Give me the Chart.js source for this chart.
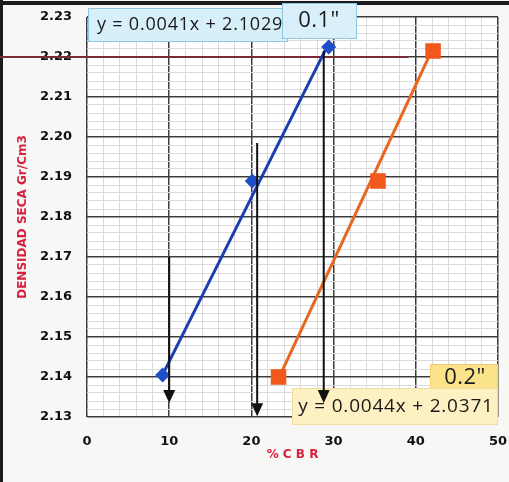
<!DOCTYPE html>
<html><head><meta charset="utf-8">
<script src="https://cdn.jsdelivr.net/npm/chart.js@4.4.0/dist/chart.umd.min.js"></script>
<style>html,body{margin:0;padding:0;background:#f8f8f6;}</style>
</head><body>
<canvas id="c" width="509" height="482"></canvas>
<script>
// ---- data ----
const blueX = [9.2, 20.1, 29.4];
const blueY = [2.1405, 2.189, 2.2225];
const orangeX = [23.3, 35.4, 42.1];
const orangeY = [2.140, 2.189, 2.2215];
const blueTrendX = [9.2, 29.4];
const blueTrendY = [2.1406, 2.2234];
const orangeTrendX = [23.3, 42.1];
const orangeTrendY = [2.1396, 2.2223];
const xTickLabels = [0, 10, 20, 30, 40, 50];
const yTickLabels = ['2.13','2.14','2.15','2.16','2.17','2.18','2.19','2.20','2.21','2.22','2.23'];
const arrowX = [10.0, 20.7, 28.8];
const arrowTop = [2.170, 2.1985, 2.2215];
const arrowTip = [2.1335, 2.1302, 2.1335];
const refLineY = [2.22];
const refLineEndX = [39.1];
const eqBlue = 'y = 0.0041x + 2.1029';
const eqOrange = 'y = 0.0044x + 2.0371';
const tagBlue = '0.1"';
const tagOrange = '0.2"';
const xTitle = '% C B R';
const yTitle = 'DENSIDAD SECA Gr/Cm3';

const pts = (xs, ys) => xs.map((x, i) => ({x: x, y: ys[i]}));
const isMajorY = v => Math.abs(v * 100 - Math.round(v * 100)) < 1e-6;
const isMajorX = v => Math.abs(v / 10 - Math.round(v / 10)) < 1e-6;

const decor = {
  id: 'decor',
  beforeDraw(chart) {
    const ctx = chart.ctx, a = chart.chartArea;
    ctx.save();
    ctx.fillStyle = '#f7f7f5';
    ctx.fillRect(0, 0, chart.width, chart.height);
    ctx.fillStyle = '#ffffff';
    ctx.fillRect(a.left, a.top, a.right - a.left, a.bottom - a.top);
    ctx.fillStyle = '#1b1b1b';
    ctx.fillRect(0, 1, chart.width, 4);
    ctx.fillRect(0, 0, 3, chart.height);
    ctx.restore();
  },
  beforeDatasetsDraw(chart) {
    const ctx = chart.ctx, xs = chart.scales.x, ys = chart.scales.y;
    ctx.save();
    ctx.strokeStyle = '#7a2c36';
    ctx.lineWidth = 2;
    refLineY.forEach((v, i) => {
      const y = ys.getPixelForValue(v);
      ctx.beginPath();
      ctx.moveTo(0, y);
      ctx.lineTo(xs.getPixelForValue(refLineEndX[i]), y);
      ctx.stroke();
    });
    ctx.restore();
  },
  afterDatasetsDraw(chart) {
    const ctx = chart.ctx, xs = chart.scales.x, ys = chart.scales.y;
    ctx.save();
    function box(x, y, w, h, bg, border) {
      ctx.fillStyle = bg; ctx.fillRect(x, y, w, h);
      ctx.strokeStyle = border; ctx.lineWidth = 1; ctx.strokeRect(x + 0.5, y + 0.5, w - 1, h - 1);
    }
    ctx.textBaseline = 'middle';
    box(88, 8, 200, 34, '#d7eff9', '#8ec7e4');
    ctx.fillStyle = '#1a1a1a';
    ctx.font = '18px "Open Sans"';
    ctx.letterSpacing = '0.8px';
    ctx.textAlign = 'left';
    ctx.fillText(eqBlue, 97, 25);
    box(282, 3, 75, 36, '#d9f0fa', '#8ec7e4');
    ctx.font = '22px "Open Sans"';
    ctx.letterSpacing = '0.5px';
    ctx.textAlign = 'center';
    ctx.fillStyle = '#1a1a1a';
    ctx.fillText(tagBlue, 319, 21);
    box(430, 364, 68, 27, '#fbe38a', '#f0d070');
    ctx.fillStyle = '#1a1a1a';
    ctx.fillText(tagOrange, 465, 378);
    box(292, 388, 206, 37, '#fdf1c4', '#efdca0');
    ctx.font = '19px "Open Sans"';
    ctx.letterSpacing = '0.8px';
    ctx.fillStyle = '#1a1a1a';
    ctx.fillText(eqOrange, 396, 407);
    ctx.letterSpacing = '0px';
    ctx.strokeStyle = '#111'; ctx.fillStyle = '#111'; ctx.lineWidth = 2;
    arrowX.forEach((v, i) => {
      const x = xs.getPixelForValue(v);
      const y1 = ys.getPixelForValue(arrowTop[i]);
      const y2 = ys.getPixelForValue(arrowTip[i]);
      ctx.beginPath(); ctx.moveTo(x, y1); ctx.lineTo(x, y2 - 10); ctx.stroke();
      ctx.beginPath(); ctx.moveTo(x - 6, y2 - 13); ctx.lineTo(x + 6, y2 - 13); ctx.lineTo(x, y2); ctx.closePath(); ctx.fill();
    });
    ctx.restore();
  }
};

new Chart(document.getElementById('c'), {
  type: 'scatter',
  data: {
    datasets: [
      {label: 'blue', data: pts(blueX, blueY), pointStyle: 'rectRot', pointRadius: 7.5, backgroundColor: '#1f4fc8', borderColor: '#1f4fc8', borderWidth: 0, showLine: false},
      {label: 'orange', data: pts(orangeX, orangeY), pointStyle: 'rect', pointRadius: 11, backgroundColor: '#f2581c', borderColor: '#f2581c', borderWidth: 0, showLine: false},
      {label: 'blueTrend', data: pts(blueTrendX, blueTrendY), showLine: true, pointRadius: 0, borderColor: '#1b3fab', borderWidth: 3},
      {label: 'orangeTrend', data: pts(orangeTrendX, orangeTrendY), showLine: true, pointRadius: 0, borderColor: '#e8661e', borderWidth: 3}
    ]
  },
  options: {
    responsive: false,
    devicePixelRatio: 1,
    animation: false,
    layout: {padding: {top: 17, right: 0, left: 0, bottom: 0}},
    plugins: {legend: {display: false}, tooltip: {enabled: false}},
    scales: {
      x: {
        type: 'linear', min: 0, max: 50,
        afterFit: s => { s.height = 65; s.paddingLeft = 0; s.paddingRight = 9; },
        border: {display: false},
        grid: {
          drawTicks: false,
          color: c => isMajorX(c.tick.value) ? '#3c3c3c' : '#dadada',
          lineWidth: c => isMajorX(c.tick.value) ? 1.5 : 1
        },
        ticks: {
          stepSize: 2, autoSkip: false, maxTicksLimit: 100, maxRotation: 0, padding: 17,
          color: '#111', font: {family: 'DejaVu Sans', weight: 'bold', size: 13},
          callback: v => (isMajorX(v) && xTickLabels.includes(Math.round(v))) ? String(Math.round(v)) : ''
        },
        title: {display: true, text: xTitle, color: '#d9203e', font: {family: 'DejaVu Sans', weight: 'bold', size: 12}, padding: {top: 0, bottom: 20}}
      },
      y: {
        type: 'linear', min: 2.13, max: 2.23,
        afterFit: s => { s.width = 87; s.paddingTop = 0; s.paddingBottom = 0; },
        border: {display: false},
        grid: {
          drawTicks: false,
          color: c => isMajorY(c.tick.value) ? '#3c3c3c' : '#dadada',
          lineWidth: c => isMajorY(c.tick.value) ? 1.5 : 1
        },
        ticks: {
          stepSize: 0.002, autoSkip: false, maxTicksLimit: 100, padding: 15,
          color: '#111', font: {family: 'DejaVu Sans', weight: 'bold', size: 13},
          callback: v => {
            if (!isMajorY(v)) return '';
            const s = v.toFixed(2);
            return yTickLabels.includes(s) ? s : '';
          }
        },
        title: {display: true, text: yTitle, color: '#d9203e', font: {family: 'DejaVu Sans', weight: 'bold', size: 12}, padding: {top: 16, bottom: 0}}
      }
    }
  },
  plugins: [decor]
});
</script>
</body></html>
